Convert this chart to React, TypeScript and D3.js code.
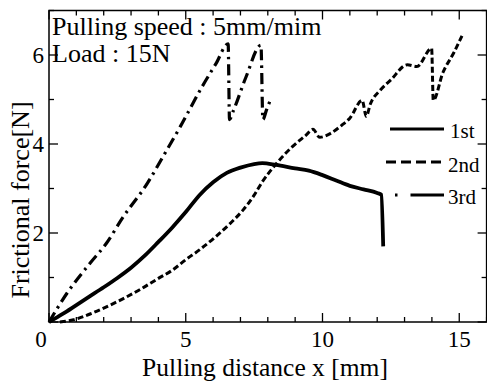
import React from "react";
import * as d3 from "d3";

const first: [number, number][] = [
  [0, 0], [0.5, 0.18], [1, 0.38], [1.5, 0.58], [2, 0.78], [2.5, 0.99], [3, 1.22], [3.5, 1.49],
  [4, 1.8], [4.5, 2.12], [5, 2.47], [5.5, 2.85], [6, 3.14], [6.5, 3.35], [7, 3.47], [7.5, 3.55],
  [7.8, 3.57], [8.3, 3.53], [9, 3.45], [9.5, 3.4], [10, 3.3], [10.5, 3.18], [11, 3.06],
  [11.5, 2.98], [12, 2.9], [12.15, 2.86], [12.22, 1.7],
];
const second: [number, number][] = [
  [0.4, 0], [0.9, 0.05], [1.5, 0.18], [2.1, 0.34], [2.7, 0.52], [3.3, 0.72], [4, 0.98], [4.5, 1.16],
  [5, 1.4], [5.5, 1.62], [6.1, 1.92], [6.6, 2.2], [7.1, 2.52], [7.5, 2.85], [7.8, 3.15], [8.3, 3.55],
  [8.9, 3.94], [9.4, 4.2], [9.65, 4.33], [9.9, 4.15], [10.3, 4.24], [10.7, 4.42], [11.0, 4.58],
  [11.45, 4.98], [11.6, 4.62], [11.75, 4.9], [12.1, 5.2], [12.5, 5.44], [13.1, 5.78], [13.45, 5.74],
  [13.99, 6.15], [14.05, 4.98], [14.4, 5.6], [14.8, 6.05], [15.1, 6.43],
];
const third: [number, number][] = [
  [0, 0], [0.65, 0.64], [1.5, 1.32], [2.1, 1.77], [2.7, 2.35], [3.6, 3.12], [4.2, 3.75], [4.8, 4.39],
  [5.6, 5.29], [6.1, 5.8], [6.55, 6.25], [6.6, 4.55], [6.75, 4.76], [7.2, 5.5], [7.75, 6.22],
  [7.82, 4.55], [7.95, 4.76], [8.1, 5.0],
];
const xTickLabels = ["5", "10", "15"];
const yTickLabels = ["2", "4", "6"];
const legendLabels = ["1st", "2nd", "3rd"];

const W = 487, H = 387;
const x = d3.scaleLinear().domain([0, 16]).range([49, 486.6]);
const y = d3.scaleLinear().domain([0, 7]).range([322, 10.5]);
const line = d3.line<[number, number]>().x(d => x(d[0])).y(d => y(d[1])).curve(d3.curveMonotoneX);
const font = "'Liberation Serif', 'Times New Roman', serif";

export default function App() {
  const xMinor = d3.range(0, 17, 1);
  const yMinor = d3.range(0, 8, 1);
  const styles = [
    { data: first, dash: undefined, w: 3.8 },
    { data: second, dash: "6,3", w: 3 },
    { data: third, dash: "11,5,2.5,5", w: 3.2 },
  ];
  const legendY = [129, 162, 195];
  const legendDash = [undefined, "10,5", "2.5,13,34"];
  const legendX0 = [390, 386, 395];
  const legendTextY = [138, 172, 204];
  const legendTextX = [450, 448, 448];
  return (
    <svg width={W} height={H} style={{ position: "absolute", left: 0, top: 0, background: "#fff" }} fontFamily={font}>
      <rect x={0} y={0} width={W} height={H} fill="#fff" />
      {xMinor.map(v => {
        const major = v % 5 === 0;
        const len = major ? 9 : 5;
        return (
          <g key={"xt" + v}>
            <line x1={x(v)} x2={x(v)} y1={y(0)} y2={y(0) - len} stroke="#000" strokeWidth={1.3} />
            <line x1={x(v)} x2={x(v)} y1={y(7)} y2={y(7) + len} stroke="#000" strokeWidth={1.3} />
          </g>
        );
      })}
      {yMinor.map(v => {
        const major = v % 2 === 0;
        const len = major ? 9 : 5;
        return (
          <g key={"yt" + v}>
            <line x1={x(0)} x2={x(0) + len} y1={y(v)} y2={y(v)} stroke="#000" strokeWidth={1.3} />
            <line x1={x(16)} x2={x(16) - len} y1={y(v)} y2={y(v)} stroke="#000" strokeWidth={1.3} />
          </g>
        );
      })}
      <rect x={x(0)} y={y(7)} width={x(16) - x(0)} height={y(0) - y(7)} fill="none" stroke="#000" strokeWidth={1.5} />
      {styles.map((s, i) => (
        <path key={"c" + i} d={line(s.data) || ""} fill="none" stroke="#000" strokeWidth={s.w}
          strokeDasharray={s.dash} strokeLinejoin="round" />
      ))}
      {legendLabels.map((l, i) => (
        <g key={"lg" + i}>
          <line x1={legendX0[i]} x2={444} y1={legendY[i]} y2={legendY[i]} stroke="#000" strokeWidth={3}
            strokeDasharray={legendDash[i]} />
          <text x={legendTextX[i]} y={legendTextY[i]} fontSize={21}>{l}</text>
        </g>
      ))}
      <text x={41} y={347} fontSize={23} textAnchor="middle">0</text>
      {xTickLabels.map(t => (
        <text key={"xl" + t} x={x(+t)} y={347} fontSize={23} textAnchor="middle">{t}</text>
      ))}
      {yTickLabels.map(t => (
        <text key={"yl" + t} x={44} y={y(+t) + 8} fontSize={23} textAnchor="end">{t}</text>
      ))}
      <text x={265} y={376} fontSize={25.5} textAnchor="middle">Pulling distance x [mm]</text>
      <text transform="translate(29,200) rotate(-90)" fontSize={26} textAnchor="middle">Frictional force[N]</text>
      <text x={52} y={35} fontSize={26}>Pulling speed : 5mm/mim</text>
      <text x={52} y={62} fontSize={26}>Load : 15N</text>
    </svg>
  );
}
